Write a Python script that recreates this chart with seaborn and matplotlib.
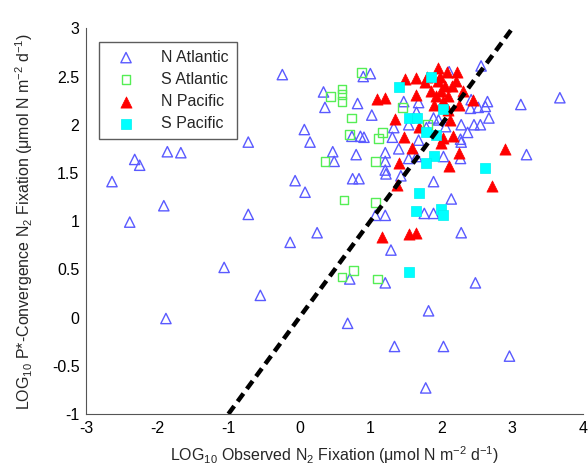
import seaborn as sns
import matplotlib
matplotlib.use('Agg')
import matplotlib.pyplot as plt
import pandas as pd

# N Atlantic (open blue triangles)
na_x = [-2.64, -2.39, -2.32, -2.25, -1.86, -1.67, -1.91, -1.88, -0.72, -0.72,
        -0.24, 0.07, 0.15, -0.06, 0.08, 0.34, 0.36, 0.47, 0.49, -1.06,
        -0.55, -0.13, 0.25, 0.68,
        1.29, 0.71, 1.21, 2.48, 1.82, 1.34, 2.03, 2.96, 1.78, 2.28,
        0.80, 1.21, 1.21, 1.40, 1.54, 1.65, 2.03, 2.27, 3.20, 0.75,
        0.84, 1.21, 1.22, 1.43, 1.89, 2.14, 1.76, 1.89, 1.21, 1.07, 2.28,
        1.00, 0.90, 0.82, 1.02, 0.74, 0.86, 0.91, 1.31, 1.47, 1.68,
        1.65, 1.54, 2.11, 2.56, 2.65, 3.12, 3.67, 2.41, 2.42, 2.52,
        2.62, 2.67, 2.28, 2.46, 2.55, 2.37, 2.27, 2.06, 1.89, 1.79,
        1.33, 1.68, 1.96]
na_y = [1.41, 0.99, 1.64, 1.58, 1.72, 1.71, 1.16, -0.01, 1.82, 1.07,
        2.52, 1.95, 1.82, 1.42, 1.30, 2.34, 2.18, 1.72, 1.62, 0.52,
        0.23, 0.78, 0.88, -0.06,
        0.70, 0.40, 0.36, 0.36, 0.07, -0.30, -0.30, -0.40, -0.73, 0.88,
        1.69, 1.71, 1.62, 1.75, 1.65, 1.67, 1.67, 1.65, 1.69, 1.44,
        1.44, 1.53, 1.49, 1.47, 1.41, 1.23, 1.08, 1.08, 1.06, 1.06, 1.82,
        2.53, 2.50, 2.22, 2.10, 1.88, 1.88, 1.87, 1.87, 2.24, 2.23,
        2.13, 2.00, 2.55, 2.61, 2.24, 2.21, 2.28, 2.17, 2.26, 2.18,
        2.19, 2.07, 2.00, 2.00, 2.00, 1.92, 1.85, 1.98, 2.07, 1.97,
        1.97, 1.84, 2.05]

# S Atlantic (open green squares)
sa_x = [0.88, 0.60, 0.60, 0.60, 0.44, 0.73, 0.71, 1.17, 1.11, 1.45,
        1.07, 0.63, 1.07, 0.60, 0.76, 1.10, 0.36, 1.80]
sa_y = [2.54, 2.37, 2.31, 2.24, 2.29, 2.07, 1.90, 1.92, 1.86, 2.18,
        1.62, 1.22, 1.19, 0.42, 0.49, 0.40, 1.62, 2.00]

# N Pacific (filled red triangles)
np_x = [1.17, 1.54, 1.64, 2.90, 2.71, 2.11, 2.25, 1.41, 1.37, 1.59,
        2.00, 1.49, 1.65, 1.80, 1.77, 1.09, 1.21, 1.65, 1.35, 1.48,
        1.68, 1.96, 2.45, 2.17, 2.03,
        1.95, 2.05, 2.00, 1.92, 2.10, 2.15, 2.02, 1.90, 2.10, 2.20,
        1.98, 2.08, 2.25, 1.85, 2.30, 2.12, 2.22]
np_y = [0.84, 0.87, 0.88, 1.75, 1.36, 1.57, 1.71, 1.60, 1.37, 1.76,
        1.81, 2.47, 2.48, 2.50, 2.44, 2.27, 2.28, 2.31, 2.06, 1.87,
        1.98, 2.59, 2.26, 1.88, 1.86,
        2.45, 2.40, 2.35, 2.30, 2.30, 2.40, 2.25, 2.20, 2.15, 2.45,
        2.50, 2.55, 2.20, 2.35, 2.35, 2.05, 2.55]

# S Pacific (filled cyan squares)
sp_x = [1.55, 1.89, 1.79, 2.62, 1.68, 1.64, 1.99, 2.02, 1.86, 1.40,
        1.54, 1.66, 1.78, 1.92, 2.03]
sp_y = [0.47, 1.68, 1.60, 1.55, 1.29, 1.10, 1.13, 1.06, 2.49, 2.39,
        2.07, 2.07, 1.92, 1.89, 2.16]

one_to_one = [-1, 3]

sns.set_style('white')
plt.rcParams['font.family'] = ['Liberation Sans', 'DejaVu Sans']
plt.rcParams['mathtext.fontset'] = 'custom'
plt.rcParams['mathtext.rm'] = 'Liberation Sans'
plt.rcParams['mathtext.it'] = 'Liberation Sans:italic'
plt.rcParams['mathtext.default'] = 'regular'
plt.rcParams['axes.unicode_minus'] = False

fig = plt.figure(figsize=(5.88, 4.72), dpi=100)
ax = fig.add_axes([0.147, 0.123, 0.845, 0.817])

na = pd.DataFrame({'x': na_x, 'y': na_y})
sa = pd.DataFrame({'x': sa_x, 'y': sa_y})
npac = pd.DataFrame({'x': np_x, 'y': np_y})
spac = pd.DataFrame({'x': sp_x, 'y': sp_y})

sns.scatterplot(data=na, x='x', y='y', marker='^', s=55, facecolor='none',
                edgecolor='#5a5aff', linewidth=1.0, label='N Atlantic', ax=ax)
sns.scatterplot(data=sa, x='x', y='y', marker='s', s=40, facecolor='none',
                edgecolor='#55ee55', linewidth=1.0, label='S Atlantic', ax=ax)
sns.scatterplot(data=npac, x='x', y='y', marker='^', s=65, color='#ff0000',
                edgecolor='#ff0000', linewidth=0.5, label='N Pacific', ax=ax)
sns.scatterplot(data=spac, x='x', y='y', marker='s', s=45, color='#00ffff',
                edgecolor='#00f0f0', linewidth=0.5, label='S Pacific', ax=ax)

sns.lineplot(x=one_to_one, y=one_to_one, color='black', linewidth=3.2,
             linestyle=(0, (2.2, 1.3)), ax=ax, legend=False)

ax.set_xlim(-3, 4)
ax.set_ylim(-1, 3)
ax.set_xticks([-3, -2, -1, 0, 1, 2, 3, 4])
ax.set_xticklabels(['-3', '-2', '-1', '0', '1', '2', '3', '4'])
ax.set_yticks([-1, -0.5, 0, 0.5, 1, 1.5, 2, 2.5, 3])
ax.set_yticklabels(['-1', '-0.5', '0', '0.5', '1', '1.5', '2', '2.5', '3'])
ax.tick_params(direction='in', length=4, width=0.8, colors='#333333',
               labelcolor='black', labelsize=11.5, pad=5)
for side in ['top', 'right']:
    ax.spines[side].set_visible(False)
for side in ['left', 'bottom']:
    ax.spines[side].set_color('#555555')
    ax.spines[side].set_linewidth(0.8)

ax.set_xlabel(r'LOG$_{10}$ Observed N$_2$ Fixation ($\mu$mol N m$^{-2}$ d$^{-1}$)',
              fontsize=11.5, labelpad=6)
ax.set_ylabel(r'LOG$_{10}$ P*-Convergence N$_2$ Fixation ($\mu$mol N m$^{-2}$ d$^{-1}$)',
              fontsize=11.5, labelpad=12)

leg = ax.legend(loc='upper left', bbox_to_anchor=(0.025, 0.965), borderaxespad=0,
                fontsize=11.5, frameon=True, fancybox=False, edgecolor='#333333',
                handletextpad=1.0, borderpad=0.5, labelspacing=0.45,
                handlelength=2.4)
leg.get_frame().set_linewidth(1.0)

fig.savefig('out.png', dpi=100)
